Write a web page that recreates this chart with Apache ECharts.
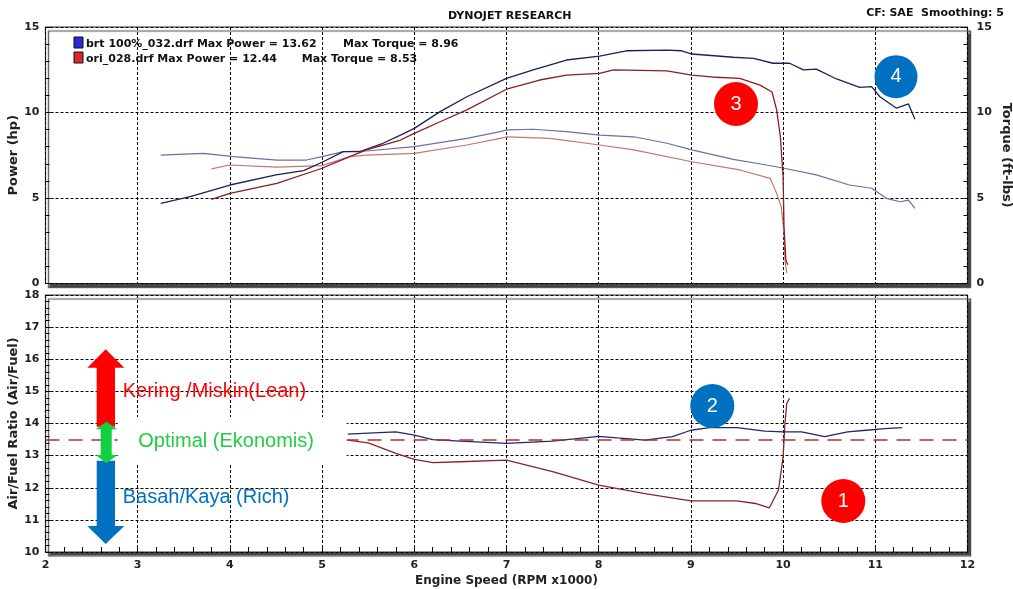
<!DOCTYPE html>
<html><head><meta charset="utf-8">
<script src="https://cdn.jsdelivr.net/npm/echarts@6/dist/echarts.min.js"></script>
<style>html,body{margin:0;padding:0;background:#fff}#c{width:1013px;height:589px}</style>
</head><body><div id="c"></div>
<script>
// ---- data (rpm x1000) ----
const brtPowerRpm = [3.25,3.57,4.0,4.5,4.8,5.0,5.23,5.41,5.66,5.85,6.0,6.28,6.57,7.0,7.29,7.65,8.01,8.3,8.74,8.9,9.01,9.46,9.68,9.89,10.07,10.22,10.36,10.58,10.83,10.96,11.05,11.23,11.36,11.43];
const brtPower    = [4.69,5.08,5.76,6.35,6.6,7.09,7.71,7.71,8.2,8.68,9.07,10.05,10.92,12.0,12.49,13.07,13.3,13.61,13.65,13.61,13.42,13.23,13.17,12.88,12.88,12.49,12.54,11.96,11.47,11.51,10.92,10.25,10.5,9.6];
const oriPowerRpm = [3.8,4.0,4.51,5.0,5.3,5.48,5.85,6.0,6.28,6.57,7.0,7.36,7.65,8.01,8.16,8.74,9.01,9.28,9.53,9.75,9.88,9.93,9.97,10.0,10.01,10.03,10.05];
const oriPower    = [4.92,5.27,5.86,6.74,7.42,7.81,8.39,8.78,9.46,10.15,11.36,11.9,12.19,12.29,12.49,12.44,12.19,12.06,12.0,11.6,11.2,10.15,8.6,6.25,3.3,1.37,1.1];
const brtTorqueRpm = [3.25,3.71,4.04,4.51,4.83,5.0,5.23,5.48,6.0,6.57,6.93,7.01,7.29,7.65,8.01,8.38,8.74,9.01,9.46,9.82,10.01,10.36,10.72,10.96,11.12,11.27,11.36,11.43];
const brtTorque    = [7.51,7.61,7.42,7.22,7.22,7.42,7.71,7.75,8.0,8.49,8.88,8.98,9.02,8.88,8.68,8.58,8.2,7.81,7.26,6.93,6.74,6.35,5.76,5.57,4.98,4.78,4.88,4.4];
const oriTorqueRpm = [3.8,4.0,4.51,5.0,5.3,5.48,6.0,6.57,6.93,7.01,7.47,8.01,8.38,9.01,9.53,9.86,9.93,9.98,10.01,10.02,10.04];
const oriTorque    = [6.7,6.93,6.8,6.89,7.42,7.51,7.61,8.1,8.49,8.58,8.49,8.1,7.81,7.12,6.64,6.15,5.27,4.49,2.95,1.37,0.6];
const brtAfrRpm = [5.28,5.5,5.8,6.0,6.2,6.5,7.0,7.5,8.0,8.2,8.5,8.8,9.0,9.2,9.5,9.8,10.0,10.2,10.45,10.7,10.9,11.1,11.29];
const brtAfr    = [13.67,13.7,13.74,13.64,13.5,13.45,13.38,13.45,13.6,13.55,13.48,13.59,13.79,13.87,13.87,13.76,13.74,13.74,13.59,13.74,13.79,13.84,13.87];
const oriAfrRpm = [5.28,5.5,5.8,6.0,6.2,6.5,7.0,7.5,8.0,8.5,9.0,9.5,9.7,9.85,9.95,10.0,10.02,10.04,10.07];
const oriAfr    = [13.48,13.4,13.07,12.88,12.78,12.81,12.86,12.5,12.08,11.82,11.59,11.59,11.51,11.37,11.93,12.96,14.0,14.63,14.78];
const targetAfr = 13.5;
const powerTicks = [0,5,10,15];
const afrTicks = [10,11,12,13,14,15,16,17,18];
const rpmTicks = [2,3,4,5,6,7,8,9,10,11,12];
const legendRows = [
  ['brt 100%_032.drf Max Power = 13.62', 'Max Torque = 8.96'],
  ['ori_028.drf Max Power = 12.44', 'Max Torque = 8.53']
];

const zip = (a, b) => a.map((v, i) => [v, b[i]]);
const F = 'DejaVu Sans, Verdana, sans-serif';
const A = 'Liberation Sans, Arial, sans-serif';
const split = { show: true, lineStyle: { color: '#000', type: [3, 2], width: 1 } };
const lbl = { color: '#222', fontSize: 11, fontWeight: 'bold', fontFamily: F, showMinLabel: true, showMaxLabel: true, hideOverlap: false };
const nameStyle = { color: '#222', fontSize: 13, fontWeight: 'bold', fontFamily: F };
const gridBase = { show: true, left: 45.5, right: 45.5, backgroundColor: '#fff', borderColor: '#333', borderWidth: 1.2,
  shadowColor: 'rgba(70,70,70,1)', shadowOffsetX: 3, shadowOffsetY: 4, shadowBlur: 1,
  containLabel: false, outerBoundsMode: 'none' };

const chart = echarts.init(document.getElementById('c'));
chart.setOption({
  animation: false,
  backgroundColor: '#fff',
  grid: [ Object.assign({ top: 27, height: 256.5 }, gridBase), Object.assign({ top: 295, height: 257 }, gridBase) ],
  xAxis: [
    { type: 'value', gridIndex: 0, min: rpmTicks[0], max: rpmTicks[rpmTicks.length-1], interval: 1,
      axisLabel: { show: false }, axisLine: { show: false }, axisTick: { show: false }, splitLine: split },
    { type: 'value', gridIndex: 1, min: rpmTicks[0], max: rpmTicks[rpmTicks.length-1], interval: 1,
      axisLabel: Object.assign({ margin: 8 }, lbl), axisLine: { show: false },
      axisTick: { show: true, inside: true, length: 5, lineStyle: { color: '#000' } },
      minorTick: { show: true, splitNumber: 5, length: 5, lineStyle: { color: '#000' } },
      splitLine: split,
      name: 'Engine Speed (RPM x1000)', nameLocation: 'middle', nameGap: 23, nameMoveOverlap: false,
      nameTextStyle: Object.assign({}, nameStyle, { fontSize: 12 }) }
  ],
  yAxis: [
    { type: 'value', gridIndex: 0, position: 'left', min: powerTicks[0], max: powerTicks[3], interval: 5,
      axisLabel: Object.assign({ margin: 6 }, lbl), axisLine: { show: false },
      axisTick: { show: true, inside: true, length: 5, lineStyle: { color: '#000' } },
      minorTick: { show: true, splitNumber: 5, length: 4, lineStyle: { color: '#000' } },
      splitLine: split, name: 'Power (hp)', nameLocation: 'middle', nameGap: 25, nameMoveOverlap: false, nameTextStyle: nameStyle },
    { type: 'value', gridIndex: 0, position: 'right', min: powerTicks[0], max: powerTicks[3], interval: 5,
      axisLabel: Object.assign({ margin: 9 }, lbl), axisLine: { show: false },
      axisTick: { show: true, inside: true, length: 4, lineStyle: { color: '#000' } },
      minorTick: { show: true, splitNumber: 5, length: 4, lineStyle: { color: '#000' } },
      splitLine: { show: false }, name: 'Torque (ft-lbs)', nameLocation: 'middle', nameRotate: -90, nameGap: 32, nameMoveOverlap: false, nameTextStyle: nameStyle },
    { type: 'value', gridIndex: 1, position: 'left', min: afrTicks[0], max: afrTicks[afrTicks.length-1], interval: 1,
      axisLabel: Object.assign({ margin: 6 }, lbl), axisLine: { show: false },
      axisTick: { show: true, inside: true, length: 5, lineStyle: { color: '#000' } },
      minorTick: { show: true, splitNumber: 5, length: 4, lineStyle: { color: '#000' } },
      splitLine: split, name: 'Air/Fuel Ratio (Air/Fuel)', nameLocation: 'middle', nameGap: 25, nameMoveOverlap: false, nameTextStyle: nameStyle }
  ],
  series: [
    { type: 'line', xAxisIndex: 0, yAxisIndex: 1, data: zip(brtTorqueRpm, brtTorque), showSymbol: false, lineStyle: { color: '#6e6ea6', width: 1.2 } },
    { type: 'line', xAxisIndex: 0, yAxisIndex: 1, data: zip(oriTorqueRpm, oriTorque), showSymbol: false, lineStyle: { color: '#c77373', width: 1.2 } },
    { type: 'line', xAxisIndex: 0, yAxisIndex: 0, data: zip(brtPowerRpm, brtPower), showSymbol: false, lineStyle: { color: '#1f1f5e', width: 1.3 } },
    { type: 'line', xAxisIndex: 0, yAxisIndex: 0, data: zip(oriPowerRpm, oriPower), showSymbol: false, lineStyle: { color: '#8a1f1f', width: 1.3 } },
    { type: 'line', xAxisIndex: 1, yAxisIndex: 2, data: zip(brtAfrRpm, brtAfr), showSymbol: false, z: 4, lineStyle: { color: '#26266a', width: 1.3 } },
    { type: 'line', xAxisIndex: 1, yAxisIndex: 2, data: zip(oriAfrRpm, oriAfr), showSymbol: false, z: 3, lineStyle: { color: '#8a2424', width: 1.3 },
      markLine: { silent: true, symbol: ['none', 'none'], label: { show: false },
        lineStyle: { color: '#a83232', type: [14, 9], width: 1.5 }, data: [{ yAxis: targetAfr }] } }
  ],
  graphic: [
    { type: 'text', z: 100, x: 509.7, y: 16, style: { text: 'DYNOJET RESEARCH', font: 'bold 11px ' + F, fill: '#111', align: 'center', verticalAlign: 'middle' } },
    { type: 'text', z: 100, x: 1004, y: 13.5, style: { text: 'CF: SAE  Smoothing: 5', font: 'bold 11px ' + F, fill: '#111', align: 'right', verticalAlign: 'middle' } },
    { type: 'rect', z: 100, shape: { x: 74, y: 37, width: 9, height: 11 }, style: { fill: '#2a2ad8', stroke: '#111', lineWidth: 1 } },
    { type: 'rect', z: 100, shape: { x: 74, y: 52, width: 9, height: 11 }, style: { fill: '#d82a2a', stroke: '#111', lineWidth: 1 } },
    { type: 'text', z: 100, x: 86, y: 43.7, style: { text: legendRows[0][0], font: 'bold 11px ' + F, fill: '#111', verticalAlign: 'middle' } },
    { type: 'text', z: 100, x: 343, y: 43.7, style: { text: legendRows[0][1], font: 'bold 11px ' + F, fill: '#111', verticalAlign: 'middle' } },
    { type: 'text', z: 100, x: 86, y: 59, style: { text: legendRows[1][0], font: 'bold 11px ' + F, fill: '#111', verticalAlign: 'middle' } },
    { type: 'text', z: 100, x: 301.7, y: 59, style: { text: legendRows[1][1], font: 'bold 11px ' + F, fill: '#111', verticalAlign: 'middle' } },
    // annotation arrows
    { type: 'polygon', z: 100, shape: { points: [[105.7,349.3],[124.3,367.7],[115,367.7],[115,426.7],[96.7,426.7],[96.7,367.7],[87.3,367.7]] }, style: { fill: '#ff0000' } },
    { type: 'rect', z: 100, shape: { x: 117.7, y: 417, width: 229, height: 46 }, style: { fill: '#fff' } },
    { type: 'polygon', z: 101, shape: { points: [[106.5,421.7],[117.3,429.3],[111.7,429.3],[111.7,455],[117.3,455],[106.5,463.3],[95.7,455],[100.7,455],[100.7,429.3],[95.7,429.3]] }, style: { fill: '#14d040' } },
    { type: 'polygon', z: 100, shape: { points: [[96.7,460.7],[115,460.7],[115,526],[124.3,526],[105.7,544],[87.3,526],[96.7,526]] }, style: { fill: '#0070c0' } },
    { type: 'text', z: 102, x: 122.7, y: 391, style: { text: 'Kering /Miskin(Lean)', font: '20px ' + A, fill: '#ff0000', verticalAlign: 'middle' } },
    { type: 'text', z: 102, x: 138.3, y: 441, style: { text: 'Optimal (Ekonomis)', font: '20px ' + A, fill: '#22cc44', verticalAlign: 'middle' } },
    { type: 'text', z: 102, x: 122.7, y: 497, style: { text: 'Basah/Kaya (Rich)', font: '20px ' + A, fill: '#0070c0', verticalAlign: 'middle' } },
    // numbered markers
    { type: 'circle', z: 100, shape: { cx: 843.3, cy: 501, r: 22 }, style: { fill: '#ff0000' } },
    { type: 'text', z: 101, x: 843.3, y: 501, style: { text: '1', font: '20px ' + A, fill: '#fff', align: 'center', verticalAlign: 'middle' } },
    { type: 'circle', z: 100, shape: { cx: 712.3, cy: 406, r: 22 }, style: { fill: '#0070c0' } },
    { type: 'text', z: 101, x: 712.3, y: 406, style: { text: '2', font: '20px ' + A, fill: '#fff', align: 'center', verticalAlign: 'middle' } },
    { type: 'circle', z: 100, shape: { cx: 736, cy: 104, r: 22 }, style: { fill: '#ff0000' } },
    { type: 'text', z: 101, x: 736, y: 104, style: { text: '3', font: '20px ' + A, fill: '#fff', align: 'center', verticalAlign: 'middle' } },
    { type: 'circle', z: 100, shape: { cx: 896, cy: 76.7, r: 21.5 }, style: { fill: '#0070c0' } },
    { type: 'text', z: 101, x: 896, y: 76.7, style: { text: '4', font: '20px ' + A, fill: '#fff', align: 'center', verticalAlign: 'middle' } }
  ]
});
</script>
</body></html>
